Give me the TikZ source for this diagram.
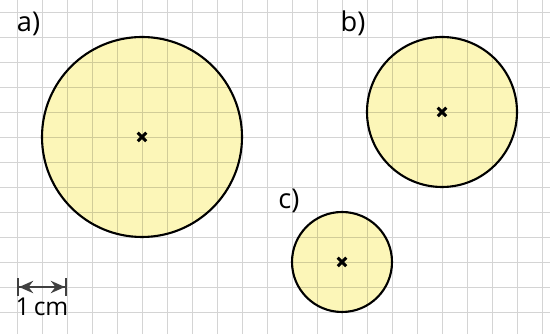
\documentclass[tikz,border=0pt]{standalone}
\usepackage{fontspec}
\setmainfont{Open Sans}
\usetikzlibrary{arrows.meta}
\definecolor{paleyellow}{HTML}{FCF6B8}
\definecolor{gridgray}{HTML}{D4D4D4}
\begin{document}
\begin{tikzpicture}[>=Stealth,
  disc/.style={circle, fill=paleyellow, inner sep=0pt},
  rim/.style={line width=1.2pt},
  lbl/.style={font=\fontsize{15.5}{18}\selectfont, inner sep=0pt}]
\useasboundingbox (-0.34,-0.44) rectangle (10.66,6.24);
\fill[white] (-0.34,-0.44) rectangle (10.66,6.24);

\node[disc, minimum size=4cm] (a) at (2.5,3.5) {};
\node[disc, minimum size=3cm] (b) at (8.5,4) {};
\node[disc, minimum size=2cm] (c) at (6.5,1) {};

% grid shows through the fill
\begin{scope}[blend mode=multiply]
\draw[gridgray, line width=0.55pt, step=0.5] (-0.34,-0.44) grid (10.66,6.24);
\end{scope}

\draw[rim] (a) circle (2);
\draw[rim] (b) circle (1.5);
\draw[rim] (c) circle (1);

\foreach \m in {a,b,c}
  \draw[line width=1.7pt] ([shift={(-0.085,-0.085)}]\m.center) -- ([shift={(0.085,0.085)}]\m.center)
    ([shift={(-0.085,0.085)}]\m.center) -- ([shift={(0.085,-0.085)}]\m.center);

\node[lbl] (la) at (0.23,5.76) {a)};
\node[lbl] (lb) at (6.72,5.78) {b)};
\node[lbl] (lc) at (5.44,2.22) {c)};

\coordinate (left) at (0,0.5);
\coordinate (right) at (1,0.5);
\draw[line width=1.2pt, black!75, {Bar[width=10pt]Stealth[length=8pt,width=7pt]}-{Stealth[length=8pt,width=7pt]Bar[width=10pt]}] (left) -- (right);
\node[font=\fontsize{14}{16}\selectfont, inner sep=0pt] (unit) at (0.5,0.1) {1\,cm};
\end{tikzpicture}
\end{document}
